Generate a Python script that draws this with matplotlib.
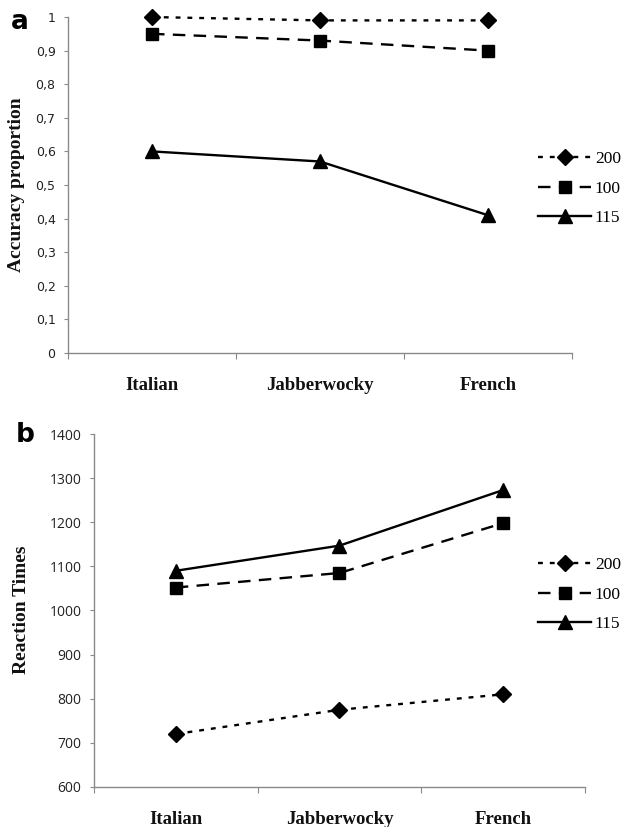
import numpy as np
import matplotlib
matplotlib.use("Agg")
import matplotlib.pyplot as plt

# data
categories = ["Italian", "Jabberwocky", "French"]
series_names = ["200", "100", "115"]
accuracy_200 = [1.0, 0.99, 0.99]
accuracy_100 = [0.95, 0.93, 0.90]
accuracy_115 = [0.60, 0.57, 0.41]
rt_200 = [720, 775, 810]
rt_100 = [1052, 1085, 1198]
rt_115 = [1090, 1147, 1273]
acc_ticks = [0, 0.1, 0.2, 0.3, 0.4, 0.5, 0.6, 0.7, 0.8, 0.9, 1.0]
acc_ticklabels = ["0", "0,1", "0,2", "0,3", "0,4", "0,5", "0,6", "0,7", "0,8", "0,9", "1"]
rt_ticks = [600, 700, 800, 900, 1000, 1100, 1200, 1300, 1400]

plt.rcParams["lines.scale_dashes"] = False
SERIF = ["Liberation Serif", "DejaVu Serif"]
GRAY = "#8a8a8a"

styles = {
    "200": dict(marker="D", markersize=8.5, dashes=(3.5, 5)),
    "100": dict(marker="s", markersize=9, dashes=(9, 6)),
    "115": dict(marker="^", markersize=10, linestyle="-"),
}

fig = plt.figure(figsize=(6.32, 8.27), dpi=100)
ax_a = fig.add_axes([0.1076, 0.5732, 0.7975, 0.4062])
ax_b = fig.add_axes([0.1487, 0.0484, 0.7769, 0.4268])

x = np.arange(len(categories)) + 0.5


def draw_panel(ax, data, yticks, yticklabels, ylabel, tickfont, ticksize):
    handles = []
    for name, vals in zip(series_names, data):
        h, = ax.plot(x, vals, color="black", lw=1.7, markerfacecolor="black",
                     markeredgecolor="black", clip_on=False, label=name, **styles[name])
        handles.append(h)
    ax.set_xlim(0, 3)
    ax.set_ylim(yticks[0], yticks[-1])
    ax.set_yticks(yticks)
    ax.set_yticklabels(yticklabels, fontfamily=tickfont, fontsize=ticksize, color="#222222")
    ax.set_xticks([0, 1, 2, 3])
    ax.set_xticklabels([])
    ax.set_xticks(x, minor=True)
    ax.set_xticklabels(categories, minor=True, fontfamily=SERIF, fontsize=13.5,
                       fontweight="bold", color="#111111")
    ax.tick_params(axis="x", which="minor", length=0, pad=17)
    ax.tick_params(axis="x", which="major", length=4, color=GRAY, direction="out")
    ax.tick_params(axis="y", length=3, color=GRAY, pad=6)
    for s in ["top", "right"]:
        ax.spines[s].set_visible(False)
    for s in ["left", "bottom"]:
        ax.spines[s].set_color(GRAY)
        ax.spines[s].set_linewidth(1.0)
    ax.set_ylabel(ylabel, fontfamily=SERIF, fontsize=14, fontweight="bold", color="#111111")
    return handles


h_a = draw_panel(ax_a, [accuracy_200, accuracy_100, accuracy_115], acc_ticks,
                 acc_ticklabels, "Accuracy proportion", "DejaVu Sans", 9)
h_b = draw_panel(ax_b, [rt_200, rt_100, rt_115], rt_ticks,
                 [str(t) for t in rt_ticks], "Reaction Times", "Open Sans", 10)

# y labels placed in figure fractions (x = right edge of the rotated text)
ax_a.yaxis.set_label_coords(25 / 632, 1 - 185 / 827, transform=fig.transFigure)
ax_b.yaxis.set_label_coords(30 / 632, 1 - 610 / 827, transform=fig.transFigure)

for ax, handles, ypos in [(ax_a, h_a, 1 - 188.5 / 827), (ax_b, h_b, 1 - 594.5 / 827)]:
    ax.legend(handles=handles, loc="center left", bbox_to_anchor=(0.852, ypos),
              bbox_transform=fig.transFigure, frameon=False, borderpad=0,
              borderaxespad=0, handlelength=3.0, handletextpad=0.25,
              labelspacing=0.75, prop=dict(family=SERIF, size=12.5))

fig.text(20 / 632, 1 - 22 / 827, "a", fontsize=19, fontweight="bold",
         fontfamily="DejaVu Sans", ha="center", va="center")
fig.text(25 / 632, 1 - 435 / 827, "b", fontsize=19, fontweight="bold",
         fontfamily="DejaVu Sans", ha="center", va="center")

fig.savefig("out.png", dpi=100, facecolor="white")
